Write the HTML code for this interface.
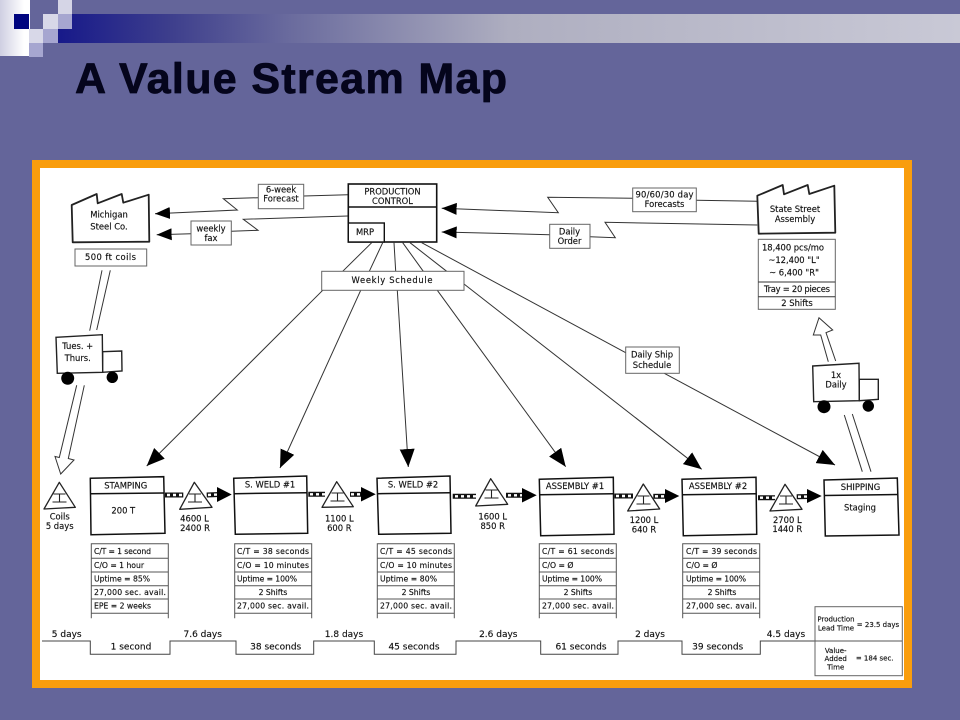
<!DOCTYPE html>
<html><head><meta charset="utf-8"><title>A Value Stream Map</title>
<style>html,body{margin:0;padding:0;background:#64659a;width:960px;height:720px;overflow:hidden}svg{display:block}
text{font-family:"DejaVu Sans","Liberation Sans",sans-serif;font-size:8.4px;fill:#111;stroke:#111;stroke-width:.15;text-anchor:middle;dominant-baseline:central}
.m text{font-size:7.7px}.tl text{font-size:9px}
.t{fill:#fff;stroke:#222;stroke-width:1.8;stroke-linejoin:round}.b{fill:#fff;stroke:#666;stroke-width:1}.l{fill:none;stroke:#333;stroke-width:1}
.k{fill:none;stroke:#111;stroke-width:1.4}.d{stroke:#111;stroke-width:5}.w{stroke:#fff;stroke-width:2.4;stroke-dasharray:3 3}</style></head><body>
<svg width="960" height="720" viewBox="0 0 960 720" xmlns="http://www.w3.org/2000/svg">
<defs>
<linearGradient id="band" x1="0" x2="1" y1="0" y2="0"><stop offset="0" stop-color="#17198a"/><stop offset=".12" stop-color="#3c3d8c"/><stop offset=".26" stop-color="#6b6c9e"/><stop offset=".5" stop-color="#aeaec0"/><stop offset="1" stop-color="#c9c9d6"/></linearGradient>
<linearGradient id="wb" x1="0" x2="1" y1="0" y2="0"><stop offset="0" stop-color="#cfcfe2"/><stop offset=".8" stop-color="#fff"/><stop offset="1" stop-color="#fff"/></linearGradient>
<marker id="a" viewBox="0 0 15 12" refX="15" refY="6" markerWidth="15" markerHeight="12" markerUnits="userSpaceOnUse" orient="auto"><path d="M0 0L15 6L0 12z" fill="#000"/></marker>
<marker id="c" viewBox="0 0 18 15" refX="18" refY="7.5" markerWidth="18" markerHeight="15" markerUnits="userSpaceOnUse" orient="auto"><path d="M0 0L18 7.5L0 15z" fill="#000"/></marker>
<g id="i"><path d="M-6 -4H6M0 -4V4M-7 4H7" fill="none" stroke="#222" stroke-width="1.1"/></g>
</defs>
<rect width="960" height="720" fill="#64659a"/>
<rect x="58" y="14" width="902" height="29" fill="url(#band)"/>
<rect x="0" y="0" width="30" height="56" fill="url(#wb)"/>
<rect x="14" y="14" width="15" height="15" fill="#00057f"/>
<rect x="43" y="14" width="15" height="15" fill="#d8d8e8"/>
<rect x="58" y="0" width="14" height="14" fill="#d5d5e6"/>
<rect x="58" y="14" width="14" height="15" fill="#a6a6d0"/>
<rect x="29" y="29" width="14" height="14" fill="#d8d8e8"/>
<rect x="43" y="29" width="15" height="14" fill="#a6a6d0"/>
<rect x="29" y="43" width="14" height="14" fill="#a6a6d0"/>
<text x="291" y="79" textLength="432" lengthAdjust="spacing" style="font-family:'Liberation Sans',sans-serif;font-size:43px;font-weight:bold;fill:#05051c;stroke:#05051c;stroke-width:.8;stroke-linejoin:round">A Value Stream Map</text>
<rect x="36" y="164" width="872" height="520" fill="#fff" stroke="#f99d0d" stroke-width="8"/>

<!-- Supplier -->
<polygon class="t" points="71.7,205 96.7,194 97.7,203.3 121.7,194 123.3,202.7 148.7,194.7 149.3,241.7 72.7,242.3"/>
<text x="109" y="214.5">Michigan</text><text x="109" y="226.5">Steel Co.</text>
<rect class="b" x="75" y="249" width="71.7" height="17"/><text x="110.5" y="257" textLength="51">500 ft coils</text>

<!-- Production control -->
<rect x="348.3" y="184" width="88.4" height="58" fill="#fff" stroke="#111" stroke-width="1.6"/>
<path d="M348.3 207H436.7" class="k"/><rect x="348.3" y="223" width="36" height="19" fill="#fff" stroke="#111" stroke-width="1.4"/>
<text x="392.5" y="191.5">PRODUCTION</text><text x="392.5" y="201">CONTROL</text><text x="365" y="232">MRP</text>

<!-- Info flows left -->
<polyline class="l" points="347.7,194.7 303.7,196"/>
<polyline class="l" points="258,197.7 223.3,198.7 237.3,210 155,213.7" marker-end="url(#a)"/>
<rect class="b" x="258.3" y="184.3" width="45.4" height="24.4"/><text x="281" y="189.5">6-week</text><text x="281" y="198.5">Forecast</text>
<polyline class="l" points="347.7,216 243.3,219.3 258,230.3 231.3,231.3"/>
<polyline class="l" points="191,233.7 156.7,234.7" marker-end="url(#a)"/>
<rect class="b" x="191" y="221" width="40.3" height="24"/><text x="211" y="228.5">weekly</text><text x="211" y="238">fax</text>

<!-- Info flows right -->
<polyline class="l" points="757.3,201.3 696.3,200.3"/>
<polyline class="l" points="632.7,198.3 547.7,197.3 558.3,212.7 441.7,208.3" marker-end="url(#a)"/>
<rect class="b" x="632.7" y="188" width="63.6" height="23.7"/><text x="664.5" y="194.5" textLength="58">90/60/30 day</text><text x="664.5" y="204">Forecasts</text>
<polyline class="l" points="757.3,225 605,222.3 615.3,237.7 590,236.7"/>
<polyline class="l" points="549.7,234.7 441.7,232" marker-end="url(#a)"/>
<rect class="b" x="549.7" y="224.3" width="40.3" height="24"/><text x="569.5" y="231.5">Daily</text><text x="569.5" y="241">Order</text>

<!-- Customer -->
<polygon class="t" points="757.3,195.7 782.7,185 784,194.3 807.7,185 809.3,194 834.3,185.7 835.3,232.7 758.7,233.7"/>
<text x="795" y="209">State Street</text><text x="795" y="219">Assembly</text>
<rect class="b" x="758.3" y="239.3" width="77" height="70"/><path d="M758.3 282H835.3M758.3 296.7H835.3" class="l" stroke="#666"/>
<text x="793" y="247.5" textLength="62">18,400 pcs/mo</text><text x="794" y="260">~12,400 "L"</text><text x="794" y="272.7">~ 6,400 "R"</text>
<text x="797" y="289" textLength="66">Tray = 20 pieces</text><text x="797" y="303">2 Shifts</text>

<!-- Weekly schedule lines -->
<g class="l">
<path class="l" d="M371.7 242.7L342.7 271.3M382.7 242.7L369.3 271.3M394 242.7L395.7 271.3M402.7 242.7L423.3 271.3M410 242.7L446.7 271.3"/>
<line x1="322.7" y1="290.3" x2="146.7" y2="466" marker-end="url(#c)"/>
<line x1="360.7" y1="290.3" x2="280" y2="468" marker-end="url(#c)"/>
<line x1="397.3" y1="290.3" x2="408.3" y2="467" marker-end="url(#c)"/>
<line x1="437.3" y1="290.3" x2="565.7" y2="466.7" marker-end="url(#c)"/>
<line x1="464" y1="284" x2="701.7" y2="469.3" marker-end="url(#c)"/>
<line x1="421.7" y1="242.7" x2="625.7" y2="352.7"/>
<line x1="664.3" y1="373.3" x2="835" y2="465" marker-end="url(#c)"/>
</g>
<rect class="b" x="321.7" y="271.3" width="142.3" height="19"/><text x="392" y="280" textLength="81" lengthAdjust="spacing">Weekly Schedule</text>
<rect class="b" x="625.7" y="347" width="53.6" height="26.3"/><text x="652" y="354.5">Daily Ship</text><text x="652" y="365">Schedule</text>

<!-- Left shipment -->
<path class="l" d="M102 270.3L89.7 330.7M110.3 270.3L96.7 330"/>
<polygon points="56,337.3 102.3,334.7 102.7,372.3 57.3,373.3" fill="#fff" stroke="#222" stroke-width="1.4"/>
<polygon points="102.7,351.7 121.7,351 122,371 102.7,372.3" fill="#fff" stroke="#222" stroke-width="1.4"/>
<circle cx="67.7" cy="378.3" r="6.5" fill="#000"/><circle cx="112.3" cy="377.3" r="5.7" fill="#000"/>
<text x="77.7" y="346">Tues. +</text><text x="77.7" y="358">Thurs.</text>
<polyline class="l" points="76.7,385.3 59.3,457.5 55,456.5 60.7,474 74,460 68.3,458.5 84.3,385.3"/>

<!-- Right shipment -->
<polyline class="l" points="828.3,361.7 820.7,335 813.3,335 819,317.7 832.7,330 826,332.7 835.7,361"/>
<polygon points="812.7,366 859,363.3 859.3,400.7 813.7,401.7" fill="#fff" stroke="#222" stroke-width="1.4"/>
<polygon points="859.3,379.3 878.3,379.3 878.3,399.3 859.3,400.7" fill="#fff" stroke="#222" stroke-width="1.4"/>
<circle cx="824" cy="406.7" r="6.5" fill="#000"/><circle cx="868.3" cy="406" r="5.7" fill="#000"/>
<text x="836" y="375">1x</text><text x="836" y="384.5">Daily</text>
<path class="l" d="M844.3 415L862.3 471.7M852.3 414L871 471.7"/>

<!-- Push arrows -->
<g>
<line class="d" x1="165" y1="495" x2="183.3" y2="495"/><line class="w" x1="167" y1="495" x2="183" y2="495"/>
<line class="d" x1="206.7" y1="495" x2="219" y2="494.5"/><line class="w" x1="208" y1="495" x2="218" y2="494.5"/>
<polygon points="217,487 231.7,494.5 217,502" fill="#000"/>
<line class="d" x1="308.3" y1="494.3" x2="325" y2="494.3"/><line class="w" x1="310" y1="494.3" x2="325" y2="494.3"/>
<line class="d" x1="350" y1="494.3" x2="363" y2="494.3"/><line class="w" x1="351" y1="494.3" x2="362" y2="494.3"/>
<polygon points="361,487 375.7,494.3 361,501.5" fill="#000"/>
<line class="d" x1="452.7" y1="496.3" x2="476" y2="496.3"/><line class="w" x1="455" y1="496.3" x2="476" y2="496.3"/>
<line class="d" x1="506" y1="495.3" x2="524" y2="495.3"/><line class="w" x1="508" y1="495.3" x2="522" y2="495.3"/>
<polygon points="522,488 536.7,495.3 522,502.5" fill="#000"/>
<line class="d" x1="614.3" y1="496" x2="633" y2="496"/><line class="w" x1="616" y1="496" x2="633" y2="496"/>
<line class="d" x1="653.3" y1="496.3" x2="667" y2="496.3"/><line class="w" x1="655" y1="496.3" x2="666" y2="496.3"/>
<polygon points="665,489 679.3,496 665,503" fill="#000"/>
<line class="d" x1="758" y1="497.7" x2="775" y2="497.7"/><line class="w" x1="760" y1="497.7" x2="775" y2="497.7"/>
<line class="d" x1="796.7" y1="496.7" x2="809" y2="496.5"/><line class="w" x1="798" y1="496.7" x2="808" y2="496.5"/>
<polygon points="807,489 821.7,496 807,503" fill="#000"/>
</g>

<!-- Inventory triangles -->
<g fill="#fff" stroke="#222" stroke-width="1.3" stroke-linejoin="round">
<polygon points="59.3,482.3 44,509 75.3,507.3"/>
<polygon points="194.3,482.3 179.7,509.3 212,507.3"/>
<polygon points="336.7,481.7 322,507.3 353.3,506.7"/>
<polygon points="490.7,478.7 475.7,506 507.7,504.3"/>
<polygon points="643.3,484 627.7,511 659.7,509"/>
<polygon points="785,484.3 770,511 802,509.3"/>
</g>
<use href="#i" x="59.5" y="498"/><use href="#i" x="195" y="498"/><use href="#i" x="337.5" y="497"/><use href="#i" x="491.5" y="494"/><use href="#i" x="643.5" y="500"/><use href="#i" x="786" y="500"/>
<text x="59.7" y="516.7">Coils</text><text x="59.7" y="526">5 days</text>
<text x="194.5" y="518.7">4600 L</text><text x="195" y="528">2400 R</text>
<text x="339.3" y="518.7">1100 L</text><text x="339.3" y="528">600 R</text>
<text x="492.7" y="516.7">1600 L</text><text x="492.7" y="526">850 R</text>
<text x="644" y="520">1200 L</text><text x="644" y="529.3">640 R</text>
<text x="787.3" y="520">2700 L</text><text x="787.3" y="529">1440 R</text>

<!-- Process boxes -->
<g fill="#fff" stroke="#111" stroke-width="1.5">
<polygon points="90.3,478.3 163.7,476.7 165,533.3 91,534.7"/><path d="M90.5 493.7L164 493"/>
<polygon points="233.7,478.3 306.7,476 307.7,533.3 235.3,534.3"/><path d="M234 493.7L307 492.7"/>
<polygon points="377,478.3 450,476 451,533.3 378.7,534.3"/><path d="M377.3 493.7L450.3 492.7"/>
<polygon points="539.3,479.3 613.3,477.3 614,534.3 540.7,535.7"/><path d="M539.5 494.7L613.5 493.7"/>
<polygon points="682,479.3 756,477.3 756.7,534.3 683.3,535.7"/><path d="M682.3 494.7L756.3 493.7"/>
<polygon points="824,480 897.3,478 899,535 825.3,536"/><path d="M824.3 495.5L898 494.5"/>
</g>
<text x="125.7" y="485.7">STAMPING</text><text x="123.3" y="510.7">200 T</text>
<text x="270" y="484.7">S. WELD #1</text><text x="413" y="484.7">S. WELD #2</text>
<text x="575" y="486">ASSEMBLY #1</text><text x="718" y="486">ASSEMBLY #2</text>
<text x="860.5" y="487">SHIPPING</text><text x="860" y="507.5">Staging</text>

<!-- Data tables -->
<g fill="none" stroke="#555" stroke-width="1">
<path d="M91.3 618.3V543.7H168.3V618.3M91.3 558.3H168.3M91.3 572H168.3M91.3 585.7H168.3M91.3 599H168.3M91.3 613.3H168.3"/>
<path d="M234.7 618.3V543.7H311.7V618.3M234.7 558.3H311.7M234.7 572H311.7M234.7 585.7H311.7M234.7 599H311.7M234.7 613.3H311.7"/>
<path d="M377.3 618.3V543.7H454.3V618.3M377.3 558.3H454.3M377.3 572H454.3M377.3 585.7H454.3M377.3 599H454.3M377.3 613.3H454.3"/>
<path d="M539.3 618.3V543.7H616.3V618.3M539.3 558.3H616.3M539.3 572H616.3M539.3 585.7H616.3M539.3 599H616.3M539.3 613.3H616.3"/>
<path d="M682.7 618.3V543.7H759.7V618.3M682.7 558.3H759.7M682.7 572H759.7M682.7 585.7H759.7M682.7 599H759.7M682.7 613.3H759.7"/>
</g>
<g class="m">
<text style="text-anchor:start" x="94" y="551.7" textLength="57">C/T = 1 second</text><text style="text-anchor:start" x="94" y="565.3" textLength="50">C/O = 1 hour</text><text style="text-anchor:start" x="94" y="579" textLength="56">Uptime = 85%</text><text style="text-anchor:start" x="94" y="592.7" textLength="72">27,000 sec. avail.</text><text style="text-anchor:start" x="94" y="606" textLength="57">EPE = 2 weeks</text>
<text style="text-anchor:start" x="237" y="551.7" textLength="72">C/T = 38 seconds</text><text style="text-anchor:start" x="237" y="565.3" textLength="72">C/O = 10 minutes</text><text style="text-anchor:start" x="237" y="579" textLength="60">Uptime = 100%</text><text x="273" y="592.7">2 Shifts</text><text style="text-anchor:start" x="237" y="606" textLength="72">27,000 sec. avail.</text>
<text style="text-anchor:start" x="380" y="551.7" textLength="72">C/T = 45 seconds</text><text style="text-anchor:start" x="380" y="565.3" textLength="72">C/O = 10 minutes</text><text style="text-anchor:start" x="380" y="579" textLength="57">Uptime = 80%</text><text x="416" y="592.7">2 Shifts</text><text style="text-anchor:start" x="380" y="606" textLength="72">27,000 sec. avail.</text>
<text style="text-anchor:start" x="542" y="551.7" textLength="72">C/T = 61 seconds</text><text style="text-anchor:start" x="542" y="565.3">C/O = Ø</text><text style="text-anchor:start" x="542" y="579" textLength="60">Uptime = 100%</text><text x="578" y="592.7">2 Shifts</text><text style="text-anchor:start" x="542" y="606" textLength="72">27,000 sec. avail.</text>
<text style="text-anchor:start" x="686" y="551.7" textLength="71">C/T = 39 seconds</text><text style="text-anchor:start" x="686" y="565.3">C/O = Ø</text><text style="text-anchor:start" x="686" y="579" textLength="60">Uptime = 100%</text><text x="722" y="592.7">2 Shifts</text><text style="text-anchor:start" x="686" y="606" textLength="71">27,000 sec. avail.</text>
</g>

<!-- Timeline -->
<polyline fill="none" stroke="#444" stroke-width="1" points="42,641 90.3,641 90.3,654.3 170,654.3 170,641 236,641 236,654.3 313.7,654.3 313.7,641 374.3,641 374.3,654.3 456,654.3 456,641 540.7,641 540.7,654.3 618,654.3 618,641 682,641 682,654.3 760.3,654.3 760.3,641 815,641"/>
<g class="tl">
<text x="66.7" y="635">5 days</text><text x="202.7" y="635">7.6 days</text><text x="344" y="635">1.8 days</text><text x="498.3" y="635">2.6 days</text><text x="650" y="635">2 days</text><text x="786" y="635">4.5 days</text>
<text x="131" y="647.7">1 second</text><text x="275.7" y="647.7">38 seconds</text><text x="414" y="647.7">45 seconds</text><text x="581" y="647.7">61 seconds</text><text x="717.7" y="647.7">39 seconds</text>
</g>

<!-- Summary -->
<rect class="b" x="815" y="606.7" width="87.3" height="69"/><path d="M815 641H902.3" stroke="#555" fill="none"/>
<text style="font-size:7px" x="836" y="619.3">Production</text><text style="font-size:7px" x="836" y="628.3">Lead Time</text><text style="font-size:7px" x="878" y="625">= 23.5 days</text>
<text style="font-size:7px" x="835.7" y="651">Value-</text><text style="font-size:7px" x="835.7" y="659">Added</text><text style="font-size:7px" x="835.7" y="667.7">Time</text><text style="font-size:7px" x="874.7" y="658.3">= 184 sec.</text>
</svg>
</body></html>
